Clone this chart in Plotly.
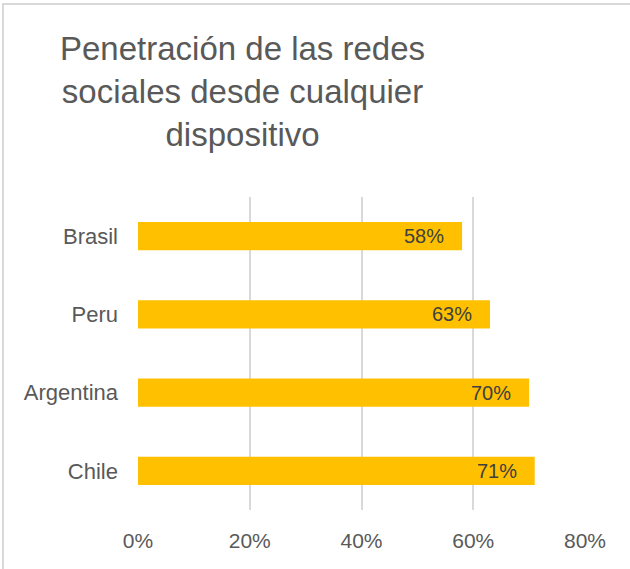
import plotly.graph_objects as go

# Share of people using social networks from any device
countries = ["Brasil", "Peru", "Argentina", "Chile"]
penetration = [58, 63, 70, 71]
x_ticks = [0, 20, 40, 60, 80]
x_tick_labels = [f"{t}%" for t in x_ticks]

W, H = 630, 569
L, R, T, B = 138, 45, 197, 59
plot_w = W - L - R
plot_h = H - T - B

text_color = "#595959"
grid_color = "#d9d9d9"
bar_color = "#FFC000"
font_family = "Liberation Sans, Arial, sans-serif"

fig = go.Figure(
    go.Bar(
        x=penetration,
        y=countries,
        orientation="h",
        width=0.36,
        marker=dict(color=bar_color, line=dict(width=0)),
        hoverinfo="skip",
    )
)

# Value labels sitting just inside the end of each bar
for c, v in zip(countries, penetration):
    fig.add_annotation(
        x=v, y=c, xref="x", yref="y",
        text=f"{v}%", showarrow=False,
        xanchor="right", yanchor="middle", xshift=-16,
        font=dict(family=font_family, size=20, color="#404040"),
    )

# Chart title, three centred lines
fig.add_annotation(
    x=(242 - L) / plot_w, y=1 + (T - 28) / plot_h,
    xref="paper", yref="paper",
    text="Penetración de las redes<br>sociales desde cualquier<br>dispositivo",
    showarrow=False, xanchor="center", yanchor="top", align="center",
    font=dict(family=font_family, size=33, color=text_color),
)

# Light frame around the chart area
fig.add_shape(
    type="rect", xref="paper", yref="paper",
    x0=(3 - L) / plot_w, x1=(W + 10 - L) / plot_w,
    y0=-(H + 10 - T - plot_h) / plot_h, y1=1 + (T - 4) / plot_h,
    line=dict(color=grid_color, width=2), fillcolor="rgba(0,0,0,0)",
    layer="below",
)

fig.update_layout(
    width=W, height=H,
    margin=dict(l=L, r=R, t=T, b=B),
    paper_bgcolor="white", plot_bgcolor="white",
    showlegend=False,
    font=dict(family=font_family, color=text_color),
    xaxis=dict(
        range=[0, 80], tickvals=x_ticks, ticktext=x_tick_labels,
        showgrid=True, gridcolor=grid_color, gridwidth=2,
        zeroline=False, showline=False,
        tickfont=dict(size=21, color=text_color),
        ticks="", ticklabelstandoff=16,
    ),
    yaxis=dict(
        categoryorder="array", categoryarray=countries,
        autorange="reversed",
        showgrid=False, zeroline=False, showline=False,
        tickfont=dict(size=22, color=text_color),
        ticks="", ticklabelstandoff=19,
    ),
)

fig.write_html("out.html")
